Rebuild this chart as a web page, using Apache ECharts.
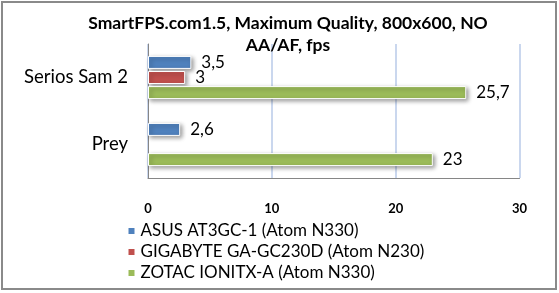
<!DOCTYPE html>
<html>
<head>
<meta charset="utf-8">
<script src="https://cdn.jsdelivr.net/npm/echarts@6/dist/echarts.min.js"></script>
<style>
html,body{margin:0;padding:0;background:#fff;}
#chart{width:559px;height:293px;}
</style>
</head>
<body>
<div id="chart"></div>
<script>
const categories = ['Serios Sam 2', 'Prey'];
const seriesNames = ['ASUS AT3GC-1 (Atom N330)', 'GIGABYTE GA-GC230D (Atom N230)', 'ZOTAC IONITX-A (Atom N330)'];
const asusValues = [3.5, 2.6];
const gigabyteValues = [3, null];
const zotacValues = [25.7, 23];
const xTicks = [0, 10, 20, 30];
const colors = ['#4f81bd', '#c0504d', '#9bbb59'];

const FONT = 'Lato';
const chart = echarts.init(document.getElementById('chart'), null, {renderer: 'canvas'});

function mkSeries(name, data, color) {
  return {
    name: name,
    type: 'bar',
    data: data,
    barWidth: 13,
    barGap: '16%',
    itemStyle: {
      color: color,
      borderColor: '#ffffff',
      borderWidth: 1,
      shadowColor: 'rgba(0,0,0,0.4)',
      shadowBlur: 4,
      shadowOffsetX: 2,
      shadowOffsetY: 2
    },
    label: {
      show: true,
      position: 'right',
      distance: 10,
      color: '#000',
      fontFamily: FONT,
      fontSize: 17,
      formatter: p => String(p.value).replace('.', ',')
    },
    emphasis: {disabled: true},
    animation: false
  };
}

chart.setOption({
  animation: false,
  backgroundColor: '#ffffff',
  title: {
    text: 'SmartFPS.com1.5, Maximum Quality, 800x600, NO\nAA/AF, fps',
    left: 288,
    textAlign: 'center',
    top: 12,
    padding: 0,
    textStyle: {fontFamily: FONT, fontWeight: 'bold', fontSize: 17.5, lineHeight: 22, color: '#000'}
  },
  legend: {
    orient: 'vertical',
    left: 126.5,
    top: 220.5,
    height: 70,
    padding: 0,
    icon: 'rect',
    itemWidth: 8,
    itemHeight: 8,
    itemGap: 0,
    data: seriesNames,
    textStyle: {fontFamily: FONT, fontSize: 17, lineHeight: 21, color: '#000'}
  },
  grid: {left: 148, right: 39.5, top: 44, bottom: 115, containLabel: false},
  xAxis: {
    type: 'value',
    min: xTicks[0],
    max: xTicks[xTicks.length - 1],
    interval: 10,
    axisLine: {show: true, lineStyle: {color: '#868686', width: 1}},
    axisTick: {show: false},
    axisLabel: {margin: 24, color: '#000', fontFamily: FONT, fontWeight: 'bold', fontSize: 13},
    splitLine: {show: true, lineStyle: {color: '#b8cae9', width: 1.5}}
  },
  yAxis: {
    type: 'category',
    inverse: true,
    data: categories,
    axisLine: {show: true, lineStyle: {color: '#868686', width: 1}},
    axisTick: {show: false},
    axisLabel: {margin: 20, color: '#000', fontFamily: FONT, fontSize: 18.5}
  },
  graphic: [{
    type: 'rect',
    shape: {x: 2, y: 2, width: 554, height: 287},
    style: {fill: 'none', stroke: '#8a8a8a', lineWidth: 2},
    silent: true
  }],
  series: [
    mkSeries(seriesNames[0], asusValues, colors[0]),
    mkSeries(seriesNames[1], gigabyteValues, colors[1]),
    mkSeries(seriesNames[2], zotacValues, colors[2])
  ]
});
</script>
</body>
</html>
